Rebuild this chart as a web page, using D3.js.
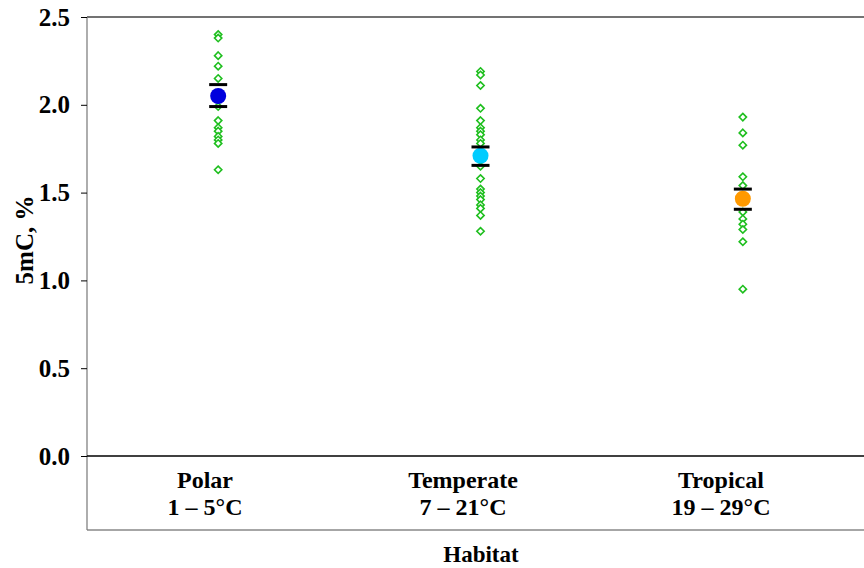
<!DOCTYPE html>
<html><head><meta charset="utf-8">
<script src="https://cdn.jsdelivr.net/npm/d3@7"></script>
<style>body{margin:0;background:#fff}svg{display:block}</style>
</head><body><svg id="c" width="864" height="568"></svg>
<script>
const categories = ["Polar", "Temperate", "Tropical"];
const ranges = ["1 – 5°C", "7 – 21°C", "19 – 29°C"];
const polarPoints = [2.40, 2.38, 2.28, 2.22, 2.15, 1.99, 1.91, 1.87, 1.85, 1.82, 1.80, 1.78, 1.63];
const temperatePoints = [2.19, 2.17, 2.11, 1.98, 1.91, 1.87, 1.85, 1.83, 1.80, 1.78, 1.65, 1.58, 1.52, 1.50, 1.48, 1.46, 1.43, 1.41, 1.37, 1.28];
const tropicalPoints = [1.93, 1.84, 1.77, 1.59, 1.54, 1.48, 1.45, 1.39, 1.35, 1.32, 1.29, 1.22, 0.95];
const means = [2.05, 1.71, 1.465];
const seLow = [1.99, 1.655, 1.405];
const seHigh = [2.115, 1.76, 1.52];
const meanColors = ["#0000dd", "#00ccff", "#ff9900"];
const yTicks = [0, 0.5, 1.0, 1.5, 2.0, 2.5];

(function () {
const svg = d3.select("#c");
const mLeft = 87, mRight = 874, mTop = 17, zeroY = 456, mBottom = 530;
const x = d3.scaleBand().domain(categories).range([mLeft, mRight]);
const xLab = d3.scaleBand().domain(categories).range([76, 850]);
const y = d3.scaleLinear().domain([0, 2.5]).range([zeroY, mTop]);
const font = "'Liberation Serif','Times New Roman',serif";

// frame lines
svg.append("line").attr("x1", mLeft).attr("x2", 864).attr("y1", mTop).attr("y2", mTop).attr("stroke", "#444").attr("stroke-width", 1.5);
svg.append("line").attr("x1", mLeft).attr("x2", 864).attr("y1", mBottom).attr("y2", mBottom).attr("stroke", "#888").attr("stroke-width", 1.5);
svg.append("line").attr("x1", mLeft).attr("x2", mLeft).attr("y1", mTop).attr("y2", mBottom).attr("stroke", "#777").attr("stroke-width", 1.2);
svg.append("line").attr("x1", mLeft).attr("x2", 864).attr("y1", zeroY).attr("y2", zeroY).attr("stroke", "#000").attr("stroke-width", 1.5);

// y axis
const yAxis = d3.axisLeft(y).tickValues(yTicks).tickFormat(d3.format(".1f")).tickSize(6).tickPadding(11);
const ga = svg.append("g").attr("transform", `translate(${mLeft},0)`).call(yAxis);
ga.select(".domain").remove();
ga.selectAll(".tick line").attr("stroke", "#000");
ga.selectAll("text").attr("font-family", font).attr("font-weight", "bold").attr("font-size", 25).attr("fill", "#000");

// y label
svg.append("text").attr("transform", "translate(33,240) rotate(-90)").attr("text-anchor", "middle")
  .attr("font-family", font).attr("font-weight", "bold").attr("font-size", 25).text("5mC, %");

// category labels
categories.forEach((c, i) => {
  const cx = xLab(c) + xLab.bandwidth() / 2;
  svg.append("text").attr("x", cx).attr("y", 488).attr("text-anchor", "middle")
    .attr("font-family", font).attr("font-weight", "bold").attr("font-size", 24).text(c);
  svg.append("text").attr("x", cx).attr("y", 515).attr("text-anchor", "middle")
    .attr("font-family", font).attr("font-weight", "bold").attr("font-size", 24).text(ranges[i]);
});
svg.append("text").attr("x", 481).attr("y", 562).attr("text-anchor", "middle")
  .attr("font-family", font).attr("font-weight", "bold").attr("font-size", 23).text("Habitat");

// points
const allPoints = [polarPoints, temperatePoints, tropicalPoints];
const diamond = d3.symbol().type(d3.symbolDiamond2).size(34);
allPoints.forEach((pts, i) => {
  const cx = x(categories[i]) + x.bandwidth() / 2;
  svg.append("g").selectAll("path").data(pts).join("path")
    .attr("d", diamond)
    .attr("transform", d => `translate(${cx},${y(d)})`)
    .attr("fill", "#fff").attr("stroke", "#1fbf1f").attr("stroke-width", 1.6);
});

// means and error bars
categories.forEach((c, i) => {
  const cx = x(c) + x.bandwidth() / 2;
  svg.append("circle").attr("cx", cx).attr("cy", y(means[i])).attr("r", 8).attr("fill", meanColors[i]);
  [seLow[i], seHigh[i]].forEach(v => {
    svg.append("line").attr("x1", cx - 9).attr("x2", cx + 9).attr("y1", y(v)).attr("y2", y(v))
      .attr("stroke", "#000").attr("stroke-width", 3);
  });
});
})();
</script></body></html>
